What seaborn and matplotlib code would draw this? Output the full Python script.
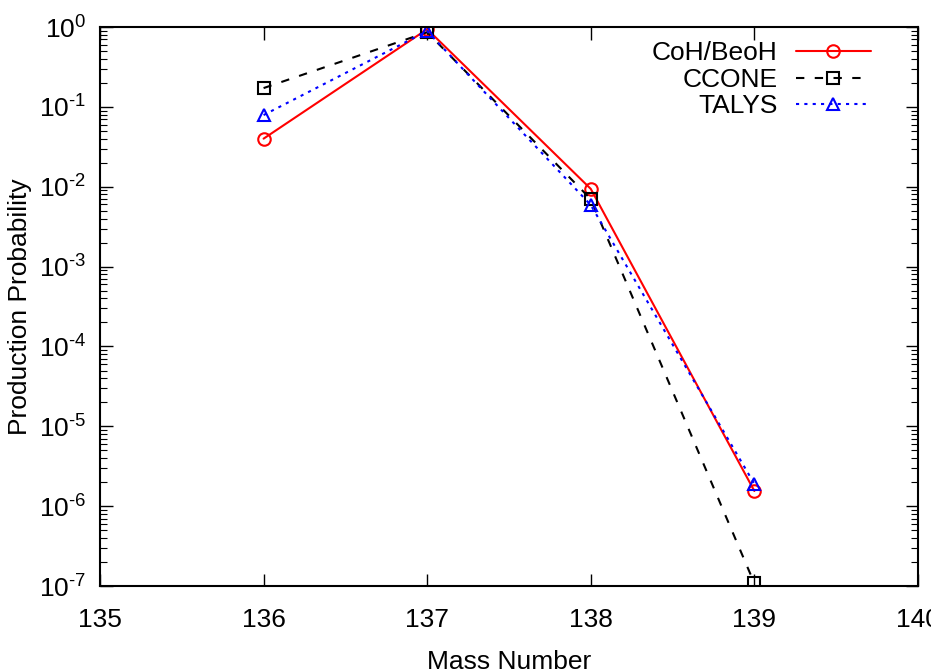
import matplotlib
matplotlib.use("Agg")
import matplotlib.pyplot as plt
import seaborn as sns
import numpy as np
from matplotlib.ticker import LogLocator, FixedLocator, NullFormatter, FuncFormatter

sns.set_style("ticks")
plt.rcParams['font.family'] = ['Liberation Sans', 'DejaVu Sans']
plt.rcParams['mathtext.fontset'] = 'custom'
plt.rcParams['mathtext.rm'] = 'Liberation Sans'
plt.rcParams['mathtext.it'] = 'Liberation Sans'
plt.rcParams['text.color'] = 'black'
plt.rcParams['axes.labelcolor'] = 'black'
plt.rcParams['xtick.color'] = 'black'
plt.rcParams['ytick.color'] = 'black'

mass = [136, 137, 138, 139]
coh = [0.040, 0.94, 0.0094, 1.55e-6]
ccone = [0.172, 0.86, 0.0070, 1.08e-7]
talys = [0.079, 0.89, 0.0059, 1.9e-6]
labels = ["CoH/BeoH", "CCONE", "TALYS"]
xticks = [135, 136, 137, 138, 139, 140]

fig = plt.figure(figsize=(9.31, 6.69), dpi=100)
ax = fig.add_axes([0.1074, 0.124, 0.986 - 0.1074, 0.9596 - 0.124])

lw = 1.5
sns.lineplot(x=mass, y=coh, ax=ax, color="red", marker="o", markersize=9,
             markerfacecolor="none", markeredgecolor="red", markeredgewidth=lw,
             linewidth=lw, label=labels[0])
sns.lineplot(x=mass, y=ccone, ax=ax, color="black", marker="s", markersize=9,
             markerfacecolor="none", markeredgecolor="black", markeredgewidth=lw,
             linewidth=lw, dashes=(4, 5), label=labels[1])
sns.lineplot(x=mass, y=talys, ax=ax, color="blue", marker="^", markersize=9,
             markerfacecolor="none", markeredgecolor="blue", markeredgewidth=lw,
             linewidth=lw, dashes=(1.5, 2.5), label=labels[2])

ax.set_yscale("log")
ax.set_xlim(135, 140)
ax.set_ylim(1e-7, 1)
ax.xaxis.set_major_locator(FixedLocator(xticks))
ax.set_xticklabels([str(t) for t in xticks])
ax.yaxis.set_major_locator(LogLocator(base=10, numticks=20))
ax.yaxis.set_minor_locator(LogLocator(base=10, subs=np.arange(2, 10), numticks=20))
ax.yaxis.set_minor_formatter(NullFormatter())


def log_fmt(v, pos):
    e = int(round(np.log10(v)))
    if e < 0:
        return r"$10^{\text{-}%d}$" % (-e)
    return r"$10^{%d}$" % e


ax.yaxis.set_major_formatter(FuncFormatter(log_fmt))

for s in ax.spines.values():
    s.set_visible(True)
    s.set_linewidth(1.5)
    s.set_color("black")

ax.tick_params(which="major", direction="in", length=9, width=1.0,
               top=True, right=True, labelsize=19, colors="black")
ax.tick_params(which="minor", direction="in", length=5, width=0.8,
               top=False, right=True)
ax.tick_params(axis="x", which="major", pad=16)
ax.tick_params(axis="y", which="major", pad=10)

ax.set_xlabel("Mass Number", fontsize=19)
ax.set_ylabel("Production Probability", fontsize=19)
ax.xaxis.set_label_coords(0.5, -0.115)
ax.yaxis.set_label_coords(-0.083, 0.5)

leg = ax.legend(loc="upper right", bbox_to_anchor=(0.962, 1.003), frameon=False,
                markerfirst=False, fontsize=19, handlelength=2.85,
                handletextpad=0.7, labelspacing=0.1, borderaxespad=0.2)

fig.savefig("out.png", dpi=100)
